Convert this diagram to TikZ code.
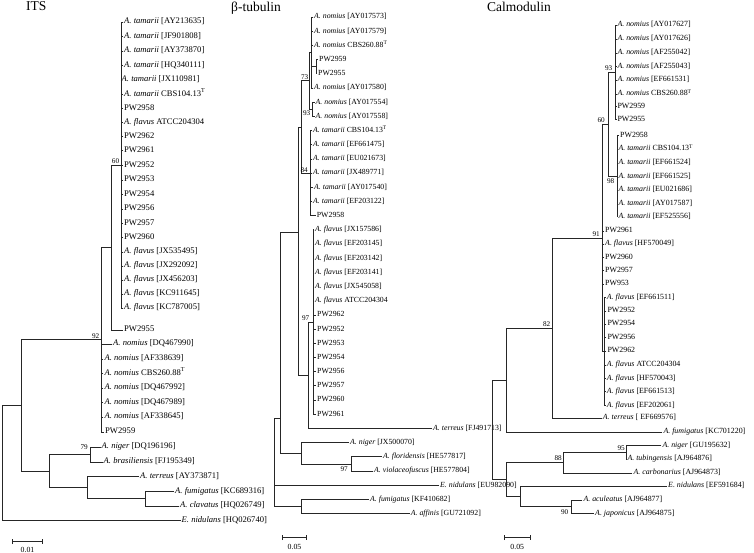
\documentclass[tikz,border=0pt]{standalone}
\usepackage{fontspec}
\setmainfont{Liberation Serif}
\usetikzlibrary{arrows.meta}
\newcommand\Anom{\textit{A.~nomius}\ }
\newcommand\Atam{\textit{A.~tamarii}\ }
\newcommand\Afla{\textit{A.~flavus}\ }
\newcommand\Tsup{\textsuperscript{T}}
\newcommand\lf[6]{\node[#1] (#2) at (#3,#4) {#5}; \draw[br] (#2.west) -| (#6);}
\tikzset{
 br/.style={line width=0.7pt, draw=black!85},
 lab/.style={anchor=west, inner xsep=1pt, inner ysep=0pt, xshift=-1pt, text height=5.6pt, text depth=1.7pt},
 labI/.style={lab, font=\fontsize{8.6}{10}\selectfont},
 labB/.style={lab, font=\fontsize{7.8}{9}\selectfont},
 labC/.style={lab, font=\fontsize{7.9}{9}\selectfont},
 bs/.style={inner sep=0pt, font=\fontsize{7.2}{8}\selectfont, text height=5.1pt, text depth=0pt},
 ttl/.style={anchor=base west, inner sep=0pt, font=\fontsize{13.5}{15}\selectfont},
 sbar/.style={br, {Bar[width=5pt]}-{Bar[width=5pt]}},
 slab/.style={inner sep=0pt, font=\fontsize{7.8}{9}\selectfont, text height=5.4pt, text depth=0pt},
}
\begin{document}
\begin{tikzpicture}[x=1pt,y=-1pt]
\useasboundingbox (0,0) rectangle (754,553);
% ---------------- titles
\node[ttl] (tITS) at (26,11) {ITS};
\node[ttl] (tBT) at (231,12) {β-tubulin};
\node[ttl] (tCM) at (487,12) {Calmodulin};
% ---------------- ITS
\coordinate (iA) at (121,165);
\coordinate (iN60) at (111,247.5);
\coordinate (iN92) at (101,339.75);
\coordinate (iN79) at (90,454.5);
\coordinate (iFC) at (145,498.75);
\coordinate (iT) at (87,487.6);
\coordinate (iN49) at (49,471);
\coordinate (iN21) at (21,405.4);
\coordinate (iR) at (2,462);
\lf{labI}{i01}{124}{22}{\Atam[AY213635]}{iA}
\lf{labI}{i02}{124}{36.7}{\Atam[JF901808]}{iA}
\lf{labI}{i03}{124}{51}{\Atam[AY373870]}{iA}
\lf{labI}{i04}{124}{65.7}{\Atam[HQ340111]}{iA}
\lf{labI}{i05}{121.5}{80}{\Atam[JX110981]}{iA}
\lf{labI}{i06}{124}{94.7}{\Atam CBS104.13\Tsup}{iA}
\lf{labI}{i07}{124}{108.3}{PW2958}{iA}
\lf{labI}{i08}{124}{122.3}{\Afla ATCC204304}{iA}
\lf{labI}{i09}{124}{136.7}{PW2962}{iA}
\lf{labI}{i10}{124}{150.7}{PW2961}{iA}
\lf{labI}{i11}{124}{165.3}{PW2952}{iA}
\lf{labI}{i12}{124}{180}{PW2953}{iA}
\lf{labI}{i13}{124}{194.3}{PW2954}{iA}
\lf{labI}{i14}{124}{209}{PW2956}{iA}
\lf{labI}{i15}{124}{223.3}{PW2957}{iA}
\lf{labI}{i16}{124}{237.5}{PW2960}{iA}
\lf{labI}{i17}{124}{252}{\Afla[JX535495]}{iA}
\lf{labI}{i18}{124}{266}{\Afla[JX292092]}{iA}
\lf{labI}{i19}{124}{280}{\Afla[JX456203]}{iA}
\lf{labI}{i20}{124}{294}{\Afla[KC911645]}{iA}
\lf{labI}{i21}{124}{308}{\Afla[KC787005]}{iA}
\lf{labI}{i22}{124}{330}{PW2955}{iN60}
\lf{labI}{i23}{113}{344}{\Anom[DQ467990]}{iN92}
\lf{labI}{i24}{104.3}{359}{\Anom[AF338639]}{iN92}
\lf{labI}{i25}{104.3}{373.5}{\Anom CBS260.88\Tsup}{iN92}
\lf{labI}{i26}{104.3}{388}{\Anom[DQ467992]}{iN92}
\lf{labI}{i27}{104.3}{402.5}{\Anom[DQ467989]}{iN92}
\lf{labI}{i28}{104.3}{417}{\Anom[AF338645]}{iN92}
\lf{labI}{i29}{105}{432}{PW2959}{iN92}
\lf{labI}{i30}{101.5}{447}{\textit{A.~niger} [DQ196196]}{iN79}
\lf{labI}{i31}{103.5}{462}{\textit{A.~brasiliensis} [FJ195349]}{iN79}
\lf{labI}{i32}{140}{476.5}{\textit{A.~terreus} [AY373871]}{iT}
\lf{labI}{i33}{175}{491.5}{\textit{A.~fumigatus} [KC689316]}{iFC}
\lf{labI}{i34}{180}{506}{\textit{A.~clavatus} [HQ026749]}{iFC}
\lf{labI}{i35}{181.5}{520.5}{\textit{E.~nidulans} [HQ026740]}{iR}
\draw[br] (iA) -| (iN60);
\draw[br] (iN60) -| (iN92);
\draw[br] (iN92) -| (iN21);
\draw[br] (iN79) -| (iN49);
\draw[br] (iFC) -| (iT);
\draw[br] (iT) -| (iN49);
\draw[br] (iN49) -| (iN21);
\draw[br] (iN21) -| (iR);
\node[bs,anchor=south] (iB60) at (115.5,164) {60};
\node[bs,anchor=south east] (iB92) at (99.5,338.5) {92};
\node[bs,anchor=east] (iB79) at (88,446.5) {79};
\coordinate (is1) at (12,541.7);
\coordinate (is2) at (43,541.7);
\draw[sbar] (is1) -- (is2);
\node[slab] (isl) at (27.5,549.5) {0.01};
% ---------------- beta-tubulin
\coordinate (bN73) at (316,66.65);
\coordinate (bN2) at (311.7,52.45);
\coordinate (bN93) at (312.7,109.2);
\coordinate (bN1) at (309,80.8);
\coordinate (bN84) at (310.7,173.05);
\coordinate (bNT) at (301.5,126.9);
\coordinate (bN97) at (313.3,322);
\coordinate (bFT) at (308.3,375.2);
\coordinate (bP1) at (298.3,232);
\coordinate (bN97b) at (351,463.85);
\coordinate (bNG) at (301.7,453.2);
\coordinate (bP2) at (280,418);
\coordinate (bFA) at (301.7,506.4);
\coordinate (bR) at (274.3,460);
\lf{labB}{b01}{314}{17}{\Anom[AY017573]}{bN2}
\lf{labB}{b02}{314}{31.2}{\Anom[AY017579]}{bN2}
\lf{labB}{b03}{314}{45.4}{\Anom CBS260.88\Tsup}{bN2}
\lf{labB}{b04}{319}{59.6}{PW2959}{bN73}
\lf{labB}{b05}{318}{73.7}{PW2955}{bN73}
\lf{labB}{b06}{314}{87.9}{\Anom[AY017580]}{bN2}
\lf{labB}{b07}{315.5}{102.1}{\Anom[AY017554]}{bN93}
\lf{labB}{b08}{315.5}{116.3}{\Anom[AY017558]}{bN93}
\lf{labB}{b09}{313}{130.5}{\Atam CBS104.13\Tsup}{bN84}
\lf{labB}{b10}{313}{144.7}{\Atam[EF661475]}{bN84}
\lf{labB}{b11}{313}{158.9}{\Atam[EU021673]}{bN84}
\lf{labB}{b12}{313}{173.0}{\Atam[JX489771]}{bN84}
\lf{labB}{b13}{314}{187.2}{\Atam[AY017540]}{bN84}
\lf{labB}{b14}{313}{201.4}{\Atam[EF203122]}{bN84}
\lf{labB}{b15}{316.7}{215.6}{PW2958}{bN84}
\lf{labB}{b16}{315}{229.8}{\Afla[JX157586]}{bN97}
\lf{labB}{b17}{315}{244.0}{\Afla[EF203145]}{bN97}
\lf{labB}{b18}{315}{258.2}{\Afla[EF203142]}{bN97}
\lf{labB}{b19}{315}{272.3}{\Afla[EF203141]}{bN97}
\lf{labB}{b20}{315}{286.5}{\Afla[JX545058]}{bN97}
\lf{labB}{b21}{315}{300.7}{\Afla ATCC204304}{bN97}
\lf{labB}{b22}{317}{314.9}{PW2962}{bN97}
\lf{labB}{b23}{317}{329.1}{PW2952}{bN97}
\lf{labB}{b24}{317}{343.3}{PW2953}{bN97}
\lf{labB}{b25}{317}{357.5}{PW2954}{bN97}
\lf{labB}{b26}{317}{371.6}{PW2956}{bN97}
\lf{labB}{b27}{317}{385.8}{PW2957}{bN97}
\lf{labB}{b28}{317}{400.0}{PW2960}{bN97}
\lf{labB}{b29}{317}{414.2}{PW2961}{bN97}
\lf{labB}{b30}{433}{428.4}{\textit{A.~terreus} [FJ491713]}{bFT}
\lf{labB}{b31}{350}{442.6}{\textit{A.~niger} [JX500070]}{bNG}
\lf{labB}{b32}{383}{456.8}{\textit{A.~floridensis} [HE577817]}{bN97b}
\lf{labB}{b33}{374}{470.9}{\textit{A.~violaceofuscus} [HE577804]}{bN97b}
\lf{labB}{b34}{440}{485.1}{\textit{E.~nidulans} [EU982090]}{bR}
\lf{labB}{b35}{370}{499.3}{\textit{A.~fumigatus} [KF410682]}{bFA}
\lf{labB}{b36}{410.7}{513.5}{\textit{A.~affinis} [GU721092]}{bFA}
\draw[br] (bN73) -| (bN2);
\draw[br] (bN2) -| (bN1);
\draw[br] (bN93) -| (bN1);
\draw[br] (bN1) -| (bNT);
\draw[br] (bN84) -| (bNT);
\draw[br] (bNT) -| (bP1);
\draw[br] (bN97) -| (bFT);
\draw[br] (bFT) -| (bP1);
\draw[br] (bP1) -| (bP2);
\draw[br] (bN97b) -| (bNG);
\draw[br] (bNG) -| (bP2);
\draw[br] (bP2) -| (bR);
\draw[br] (bFA) -| (bR);
\node[bs,anchor=south east] (bB73) at (308.5,80) {73};
\node[bs,anchor=east] (bB93) at (310.5,112.5) {93};
\node[bs,anchor=south east] (bB84) at (308,172.5) {84};
\node[bs,anchor=south east] (bB97) at (309.5,320.5) {97};
\node[bs,anchor=east] (bB97b) at (348,469) {97};
\coordinate (bs1) at (282.3,537.5);
\coordinate (bs2) at (306.7,537.5);
\draw[sbar] (bs1) -- (bs2);
\node[slab] (bsl) at (294.5,546.5) {0.05};
% ---------------- Calmodulin
\coordinate (cN93) at (615.5,72.25);
\coordinate (cN98) at (617,176.2);
\coordinate (cN60) at (608.3,124.2);
\coordinate (cS) at (604.5,351.7);
\coordinate (cN91) at (602.7,238);
\coordinate (cN82) at (552.7,328);
\coordinate (cU) at (506,380);
\coordinate (cN95) at (626,452.25);
\coordinate (cN88) at (563.3,462.6);
\coordinate (cN90) at (571.7,506.75);
\coordinate (cN) at (520.7,496.4);
\coordinate (cL) at (506,479.5);
\coordinate (cR) at (492.7,430);
\lf{labC}{c01}{617.3}{25}{\Anom[AY017627]}{cN93}
\lf{labC}{c02}{617.3}{39}{\Anom[AY017626]}{cN93}
\lf{labC}{c03}{617.3}{53}{\Anom[AF255042]}{cN93}
\lf{labC}{c04}{617.3}{66.7}{\Anom[AF255043]}{cN93}
\lf{labC}{c05}{617.3}{80}{\Anom[EF661531]}{cN93}
\lf{labC}{c06}{617.3}{94}{\Anom CBS260.88\Tsup}{cN93}
\lf{labC}{c07}{617.3}{106.7}{PW2959}{cN93}
\lf{labC}{c08}{617.3}{119.5}{PW2955}{cN93}
\lf{labC}{c09}{620}{135.7}{PW2958}{cN98}
\lf{labC}{c10}{618.3}{149}{\Atam CBS104.13\Tsup}{cN98}
\lf{labC}{c11}{618.3}{162.7}{\Atam[EF661524]}{cN98}
\lf{labC}{c12}{618.3}{176.7}{\Atam[EF661525]}{cN98}
\lf{labC}{c13}{618.3}{190}{\Atam[EU021686]}{cN98}
\lf{labC}{c14}{618.3}{204}{\Atam[AY017587]}{cN98}
\lf{labC}{c15}{618.3}{216.7}{\Atam[EF525556]}{cN98}
\lf{labC}{c16}{605}{231}{PW2961}{cN91}
\lf{labC}{c17}{605}{244}{\Afla[HF570049]}{cN91}
\lf{labC}{c18}{605}{257.3}{PW2960}{cN91}
\lf{labC}{c19}{605}{270.7}{PW2957}{cN91}
\lf{labC}{c20}{605}{284}{PW953}{cN91}
\lf{labC}{c21}{606.7}{297.7}{\Afla[EF661511]}{cS}
\lf{labC}{c22}{607.3}{311}{PW2952}{cS}
\lf{labC}{c23}{607.3}{324}{PW2954}{cS}
\lf{labC}{c24}{607.3}{337.7}{PW2956}{cS}
\lf{labC}{c25}{607.3}{351}{PW2962}{cS}
\lf{labC}{c26}{606.7}{365}{\Afla ATCC204304}{cS}
\lf{labC}{c27}{606.7}{378.3}{\Afla[HF570043]}{cS}
\lf{labC}{c28}{606.7}{391.7}{\Afla[EF661513]}{cS}
\lf{labC}{c29}{606.7}{405.7}{\Afla[EF202061]}{cS}
\lf{labC}{c30}{602.7}{418}{\textit{A.~terreus} [ EF669576]}{cN82}
\lf{labC}{c31}{663.3}{432}{\textit{A.~fumigatus} [KC701220]}{cU}
\lf{labC}{c32}{662.3}{445.5}{\textit{A.~niger} [GU195632]}{cN95}
\lf{labC}{c33}{627.3}{459}{\textit{A.~tubingensis} [AJ964876]}{cN95}
\lf{labC}{c34}{633.3}{473}{\textit{A.~carbonarius} [AJ964873]}{cN88}
\lf{labC}{c35}{668}{486}{\textit{E.~nidulans} [EF591684]}{cN}
\lf{labC}{c36}{583.3}{500}{\textit{A.~aculeatus} [AJ964877]}{cN90}
\lf{labC}{c37}{595}{513.5}{\textit{A.~japonicus} [AJ964875]}{cN90}
\draw[br] (cN93) -| (cN60);
\draw[br] (cN98) -| (cN60);
\draw[br] (cN60) -| (cN91);
\draw[br] (cS) -| (cN91);
\draw[br] (cN91) -| (cN82);
\draw[br] (cN82) -| (cU);
\draw[br] (cU) -| (cR);
\draw[br] (cN95) -| (cN88);
\draw[br] (cN88) -| (cL);
\draw[br] (cN90) -| (cN);
\draw[br] (cN) -| (cL);
\draw[br] (cL) -| (cR);
\node[bs,anchor=south east] (cB93) at (612.5,71) {93};
\node[bs,anchor=south east] (cB60) at (605,122.5) {60};
\node[bs,anchor=north east] (cB98) at (614.5,178.5) {98};
\node[bs,anchor=south east] (cB91) at (600,236.5) {91};
\node[bs,anchor=south east] (cB82) at (550.5,326.5) {82};
\node[bs,anchor=south east] (cB88) at (562,461) {88};
\node[bs,anchor=south east] (cB95) at (625,450.5) {95};
\node[bs,anchor=north east] (cB90) at (568.5,509.5) {90};
\coordinate (cs1) at (504,537.5);
\coordinate (cs2) at (530.7,537.5);
\draw[sbar] (cs1) -- (cs2);
\node[slab] (csl) at (517.3,546.5) {0.05};
\end{tikzpicture}
\end{document}
